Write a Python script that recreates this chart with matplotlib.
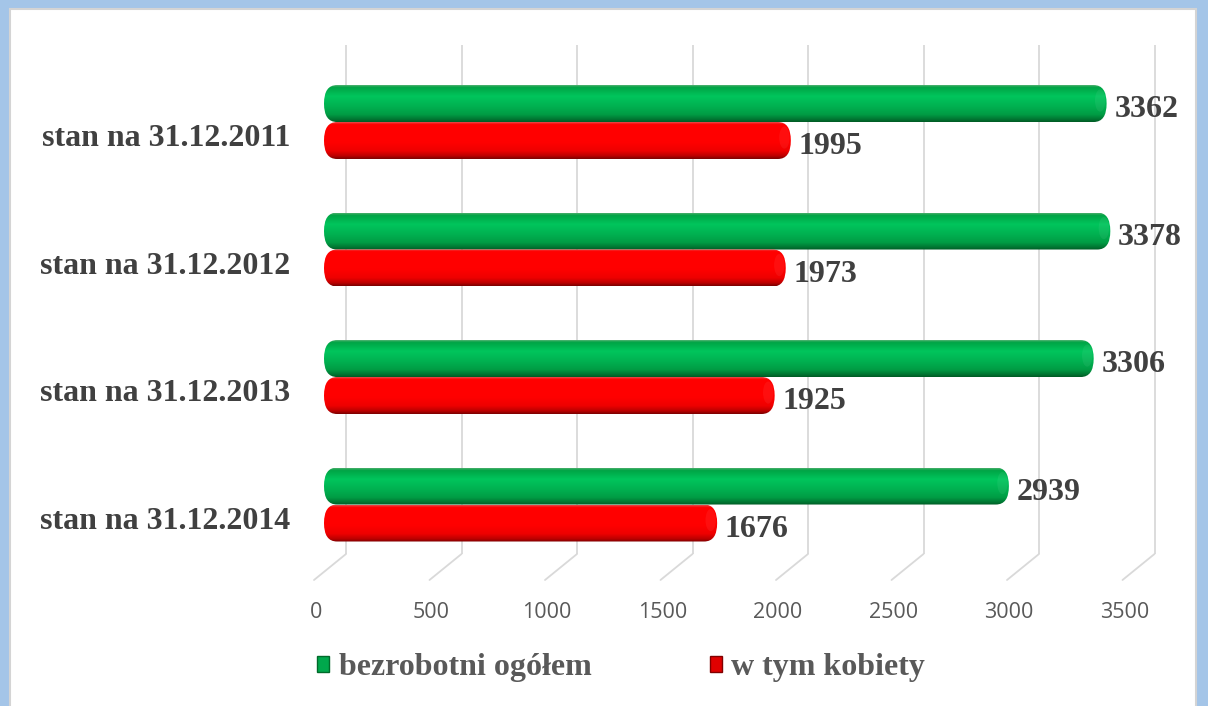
import numpy as np
import matplotlib
matplotlib.use("Agg")
import matplotlib.pyplot as plt
from matplotlib.patches import FancyBboxPatch, Patch, Rectangle, Ellipse
from matplotlib.colors import LinearSegmentedColormap

# data
categories = ["stan na 31.12.2011", "stan na 31.12.2012", "stan na 31.12.2013", "stan na 31.12.2014"]
total = [3362, 3378, 3306, 2939]      # bezrobotni ogółem
women = [1995, 1973, 1925, 1676]      # w tym kobiety
series_names = ["bezrobotni ogółem", "w tym kobiety"]
ticks = np.arange(0, 4000, 500)

W, H = 1208, 706
SERIF = "Liberation Serif"
TXT = "#404040"
GRID = "#d9d9d9"

green_cm = LinearSegmentedColormap.from_list("g", [
    (0, "#4aae6c"), (0.06, "#00a445"), (0.3, "#00c55c"), (0.55, "#00b352"),
    (0.8, "#009c44"), (0.93, "#007532"), (1, "#005a25")])
red_cm = LinearSegmentedColormap.from_list("r", [
    (0, "#e84848"), (0.06, "#ff0000"), (0.55, "#ff0000"), (0.78, "#ee0000"),
    (0.92, "#bb0000"), (1, "#7a0000")])

fig = plt.figure(figsize=(W / 100, H / 100), dpi=100)
fig.patch.set_facecolor("#a4c5e8")
fig.add_artist(Rectangle((10 / W, -0.01), 1186 / W, (H - 9) / H + 0.01,
                         transform=fig.transFigure, facecolor="white",
                         edgecolor="#d4d4d4", lw=1.5, zorder=0))

PX = 0.231                 # pixels per unit
XMIN, XMAX = -100, 3650
AW = PX * (XMAX - XMIN)
YLIM = (3.388, -0.604)


def px_axes(zero_x, ytop, h):
    # zero_x: pixel column where value 0 sits
    x0 = zero_x + XMIN * PX
    a = fig.add_axes([x0 / W, 1 - (ytop + h) / H, AW / W, h / H])
    a.set_facecolor("none")
    for s in a.spines.values():
        s.set_visible(False)
    a.set_xlim(XMIN, XMAX)
    a.set_ylim(*YLIM)
    return a


ax_back = px_axes(346, 45, 509)     # back wall with gridlines
ax_front = px_axes(316, 58, 509)    # front floor: tick labels
ax = px_axes(330, 45, 509)          # bars plane

# back wall gridlines + floor diagonals
ax_back.set_xticks(ticks)
ax_back.grid(axis="x", color=GRID, lw=1.3)
ax_back.tick_params(length=0, labelbottom=False, labelleft=False)
ax_back.set_yticks([])
for v in ticks:
    ax_back.annotate("", xy=(v, 0), xycoords=ax_back.get_xaxis_transform(),
                     xytext=(-32, -26), textcoords="offset pixels",
                     arrowprops=dict(arrowstyle="-", color=GRID, lw=1.3,
                                     shrinkA=0, shrinkB=0),
                     annotation_clip=False)

# labels on the front plane
y = np.arange(len(categories))
ax_front.set_xticks(ticks)
ax_front.set_xticklabels([str(t) for t in ticks], family="Open Sans",
                         fontsize=15.5, color="#595959")
ax_front.set_yticks(y)
ax_front.set_yticklabels(categories, family=SERIF, fontweight="bold",
                         fontsize=23, color=TXT)
ax_front.tick_params(axis="x", length=0, pad=25)
ax_front.tick_params(axis="y", length=0, pad=2)

# bars
ax.set_xticks([])
ax.set_yticks([])
h = 0.29
bg = ax.barh(y - h / 2, total, h, color="none")
br = ax.barh(y + h / 2, women, h, color="none")

r = 56      # end-cap radius (data units)
ext = 26
grad = np.linspace(0, 1, 200).reshape(-1, 1)
for cont, cm in ((bg, green_cm), (br, red_cm)):
    for rect in cont:
        x0, w = rect.get_x(), rect.get_width()
        yb, hh = rect.get_y(), rect.get_height()
        p = FancyBboxPatch((x0 - ext, yb), w + ext, hh,
                           boxstyle=f"round,pad=0,rounding_size={r}",
                           mutation_aspect=(hh / 2) / r,
                           facecolor="none", edgecolor="none", zorder=3)
        ax.add_patch(p)
        im = ax.imshow(grad, extent=(x0 - ext, x0 + w, yb + hh, yb), cmap=cm,
                       aspect="auto", origin="upper", interpolation="bilinear",
                       zorder=3)
        im.set_clip_path(p)
        hl = Ellipse((x0 + w - r * 0.5, yb + hh * 0.42), r * 0.8, hh * 0.6,
                     facecolor="white", alpha=0.06, edgecolor="none", zorder=4)
        ax.add_patch(hl)
        hl.set_clip_path(p)

ax.set_xlim(XMIN, XMAX)
ax.set_ylim(*YLIM)

for cont in (bg, br):
    labs = ax.bar_label(cont, padding=6, family=SERIF, fontweight="bold",
                        fontsize=23, color=TXT)
    for t in labs:
        t.xyann = (5.5, -4.5)

# legend
handles = [Patch(facecolor="#00a84c", edgecolor="#006a2a"),
           Patch(facecolor="#e00000", edgecolor="#800000")]
fig.legend(handles, series_names, loc="center",
           bbox_to_anchor=(621 / W, 1 - 668 / H), ncol=2, frameon=False,
           prop=dict(family=SERIF, weight="bold", size=23),
           labelcolor="#595959", handlelength=0.38, handleheight=0.42,
           handletextpad=0.3, columnspacing=3.7)

fig.savefig("out.png", dpi=100)
